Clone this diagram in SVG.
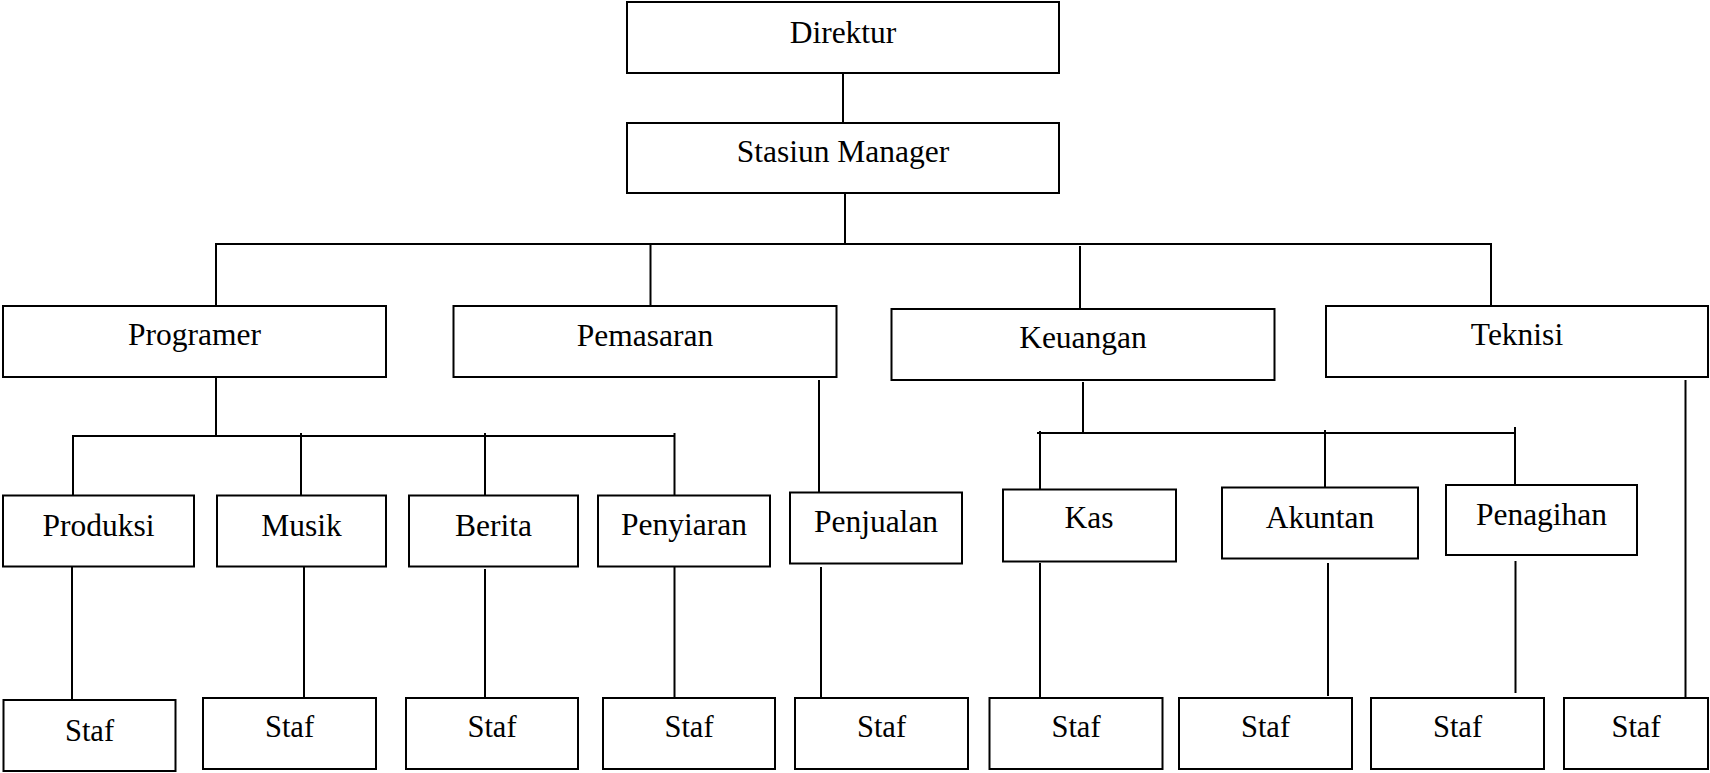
<svg xmlns="http://www.w3.org/2000/svg" width="1710" height="773" viewBox="0 0 1710 773">
<style>
.box{fill:#fff;stroke:#000;stroke-width:2}
.t{font-family:"Liberation Serif","Times New Roman",serif;font-size:31.5px;fill:#000;text-anchor:middle}
.s{font-size:30.5px}
.c{stroke:#000;stroke-width:2;fill:none}
</style>
<rect width="1710" height="773" fill="#fff"/>
<g id="connectors">
<line class="c" x1="843" y1="73" x2="843" y2="123"/>
<line class="c" x1="845" y1="193" x2="845" y2="244"/>
<line class="c" x1="215" y1="244" x2="1492" y2="244"/>
<line class="c" x1="216" y1="244" x2="216" y2="306"/>
<line class="c" x1="650.5" y1="245" x2="650.5" y2="306"/>
<line class="c" x1="1080" y1="246" x2="1080" y2="309"/>
<line class="c" x1="1491" y1="244" x2="1491" y2="306"/>
<line class="c" x1="216" y1="377" x2="216" y2="436"/>
<line class="c" x1="72" y1="436" x2="675" y2="436"/>
<line class="c" x1="73" y1="436" x2="73" y2="495"/>
<line class="c" x1="301" y1="433" x2="301" y2="495"/>
<line class="c" x1="485" y1="433" x2="485" y2="495"/>
<line class="c" x1="674.5" y1="433" x2="674.5" y2="495"/>
<line class="c" x1="819" y1="380" x2="819" y2="495"/>
<line class="c" x1="1083" y1="382" x2="1083" y2="433"/>
<line class="c" x1="1037" y1="433" x2="1516" y2="433"/>
<line class="c" x1="1040" y1="431" x2="1040" y2="489"/>
<line class="c" x1="1325" y1="430" x2="1325" y2="490"/>
<line class="c" x1="1515" y1="427" x2="1515" y2="487"/>
<line class="c" x1="1685.5" y1="380" x2="1685.5" y2="698"/>
<line class="c" x1="72" y1="567" x2="72" y2="699"/>
<line class="c" x1="304" y1="563" x2="304" y2="697"/>
<line class="c" x1="485" y1="569" x2="485" y2="700"/>
<line class="c" x1="674.5" y1="563" x2="674.5" y2="697"/>
<line class="c" x1="821" y1="567" x2="821" y2="698"/>
<line class="c" x1="1040" y1="563" x2="1040" y2="697"/>
<line class="c" x1="1328" y1="563" x2="1328" y2="696"/>
<line class="c" x1="1515.5" y1="561" x2="1515.5" y2="693"/>
</g>
<g id="direktur"><rect class="box" x="627" y="2" width="432" height="71"/><text class="t" x="843" y="43">Direktur</text></g>
<g id="stasiun-manager"><rect class="box" x="627" y="123" width="432" height="70"/><text class="t" x="843" y="162">Stasiun Manager</text></g>
<g id="programer"><rect class="box" x="3" y="306" width="383" height="71"/><text class="t" x="194.5" y="345">Programer</text></g>
<g id="pemasaran"><rect class="box" x="453.5" y="306" width="383" height="71"/><text class="t" x="645" y="346">Pemasaran</text></g>
<g id="keuangan"><rect class="box" x="891.5" y="309" width="383" height="71"/><text class="t" x="1083" y="348">Keuangan</text></g>
<g id="teknisi"><rect class="box" x="1326" y="306" width="382" height="71"/><text class="t" x="1517" y="345">Teknisi</text></g>
<g id="produksi"><rect class="box" x="3" y="495.5" width="191" height="71"/><text class="t" x="98.5" y="536">Produksi</text></g>
<g id="musik"><rect class="box" x="217" y="495.5" width="169" height="71"/><text class="t" x="301.5" y="536">Musik</text></g>
<g id="berita"><rect class="box" x="409" y="495.5" width="169" height="71"/><text class="t" x="493.5" y="536">Berita</text></g>
<g id="penyiaran"><rect class="box" x="598" y="495.5" width="172" height="71"/><text class="t" x="684" y="535">Penyiaran</text></g>
<g id="penjualan"><rect class="box" x="790" y="492.5" width="172" height="71"/><text class="t" x="876" y="532">Penjualan</text></g>
<g id="kas"><rect class="box" x="1003" y="489.5" width="173" height="72"/><text class="t" x="1089" y="528">Kas</text></g>
<g id="akuntan"><rect class="box" x="1222" y="487.5" width="196" height="71"/><text class="t" x="1320" y="528">Akuntan</text></g>
<g id="penagihan"><rect class="box" x="1446" y="485" width="191" height="70"/><text class="t" x="1541.5" y="525">Penagihan</text></g>
<g id="staf-1"><rect class="box" x="3.5" y="700" width="172" height="71"/><text class="t s" x="89.5" y="741">Staf</text></g>
<g id="staf-2"><rect class="box" x="203" y="698" width="173" height="71"/><text class="t s" x="289.5" y="737">Staf</text></g>
<g id="staf-3"><rect class="box" x="406" y="698" width="172" height="71"/><text class="t s" x="492" y="737">Staf</text></g>
<g id="staf-4"><rect class="box" x="603" y="698" width="172" height="71"/><text class="t s" x="689" y="737">Staf</text></g>
<g id="staf-5"><rect class="box" x="795" y="698" width="173" height="71"/><text class="t s" x="881.5" y="737">Staf</text></g>
<g id="staf-6"><rect class="box" x="989.5" y="698" width="173" height="71"/><text class="t s" x="1076" y="737">Staf</text></g>
<g id="staf-7"><rect class="box" x="1179" y="698" width="173" height="71"/><text class="t s" x="1265.5" y="737">Staf</text></g>
<g id="staf-8"><rect class="box" x="1371" y="698" width="173" height="71"/><text class="t s" x="1457.5" y="737">Staf</text></g>
<g id="staf-9"><rect class="box" x="1564" y="698" width="144" height="71"/><text class="t s" x="1636" y="737">Staf</text></g>
</svg>
